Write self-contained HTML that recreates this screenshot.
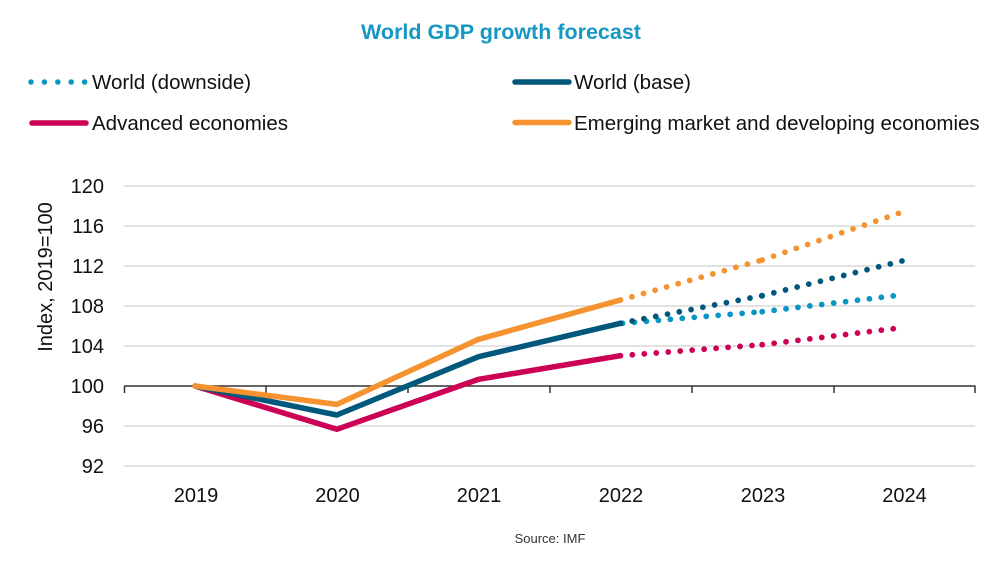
<!DOCTYPE html>
<html>
<head>
<meta charset="utf-8">
<style>
  html, body { margin: 0; padding: 0; background: #ffffff; }
  body { width: 1000px; height: 562px; overflow: hidden; }
  svg { display: block; }
  text { font-family: "Liberation Sans", Arial, sans-serif; }
</style>
</head>
<body>
<svg width="1000" height="562" viewBox="0 0 1000 562" xmlns="http://www.w3.org/2000/svg">
  <rect width="1000" height="562" fill="#ffffff"/>

  <!-- Title -->
  <text x="501" y="39" font-size="21.5" font-weight="bold" fill="#1797c4" text-anchor="middle">World GDP growth forecast</text>

  <!-- Legend -->
  <line x1="31" y1="82" x2="85" y2="82" stroke="#0a96c4" stroke-width="5.5" stroke-linecap="round" stroke-dasharray="0 13.4"/>
  <text x="92" y="89" font-size="20.5" fill="#111">World (downside)</text>

  <line x1="32" y1="123" x2="86" y2="123" stroke="#cc0055" stroke-width="5.5" stroke-linecap="round"/>
  <text x="92" y="130" font-size="20.5" fill="#111">Advanced economies</text>

  <line x1="515" y1="82" x2="569" y2="82" stroke="#00587c" stroke-width="5.5" stroke-linecap="round"/>
  <text x="574" y="89" font-size="20.5" fill="#111">World (base)</text>

  <line x1="515" y1="122.5" x2="569" y2="122.5" stroke="#f59331" stroke-width="5.5" stroke-linecap="round"/>
  <text x="574" y="130" font-size="20.5" fill="#111">Emerging market and developing economies</text>

  <!-- Gridlines -->
  <g stroke="#d9d9d9" stroke-width="1.5">
    <line x1="124" y1="186" x2="975" y2="186"/>
    <line x1="124" y1="226" x2="975" y2="226"/>
    <line x1="124" y1="266" x2="975" y2="266"/>
    <line x1="124" y1="306" x2="975" y2="306"/>
    <line x1="124" y1="346" x2="975" y2="346"/>
    <line x1="124" y1="426" x2="975" y2="426"/>
    <line x1="124" y1="466" x2="975" y2="466"/>
  </g>

  <!-- Axis at 100 -->
  <g stroke="#333" stroke-width="1.5">
    <line x1="124" y1="386" x2="975.5" y2="386"/>
    <line x1="124.5" y1="386" x2="124.5" y2="393"/>
    <line x1="266" y1="386" x2="266" y2="393"/>
    <line x1="408" y1="386" x2="408" y2="393"/>
    <line x1="550" y1="386" x2="550" y2="393"/>
    <line x1="692" y1="386" x2="692" y2="393"/>
    <line x1="834" y1="386" x2="834" y2="393"/>
    <line x1="975" y1="386" x2="975" y2="393"/>
  </g>

  <!-- Y tick labels -->
  <g font-size="20" fill="#111" text-anchor="end">
    <text x="104" y="193">120</text>
    <text x="104" y="233">116</text>
    <text x="104" y="273">112</text>
    <text x="104" y="313">108</text>
    <text x="104" y="353">104</text>
    <text x="104" y="393">100</text>
    <text x="104" y="433">96</text>
    <text x="104" y="473">92</text>
  </g>

  <!-- Y axis title -->
  <text transform="translate(52,277) rotate(-90)" font-size="20" fill="#111" text-anchor="middle">Index, 2019=100</text>

  <!-- X labels -->
  <g font-size="20" fill="#111" text-anchor="middle">
    <text x="196" y="502">2019</text>
    <text x="337.5" y="502">2020</text>
    <text x="479" y="502">2021</text>
    <text x="621" y="502">2022</text>
    <text x="763" y="502">2023</text>
    <text x="904.5" y="502">2024</text>
  </g>

  <!-- Source -->
  <text x="550" y="543" font-size="13" fill="#333" text-anchor="middle">Source: IMF</text>

  <!-- Series: solid -->
  <polyline points="195,386 336.8,429.3 478.6,379.3 620.4,355.7" fill="none" stroke="#cc0055" stroke-width="5.5" stroke-linejoin="round" stroke-linecap="round"/>
  <polyline points="195,386 336.8,415 478.6,356.7 620.4,323.3" fill="none" stroke="#00587c" stroke-width="5.5" stroke-linejoin="round" stroke-linecap="round"/>
  <polyline points="195,386 336.8,404.4 478.6,339.3 620.4,300" fill="none" stroke="#f59331" stroke-width="5.5" stroke-linejoin="round" stroke-linecap="round"/>

  <!-- Series: dotted forecasts -->
  <g fill="none" stroke-width="5.8" stroke-linecap="round" stroke-dasharray="0 12">
    <!-- downside -->
    <line x1="622.5" y1="323.3" x2="762.2" y2="311.7" stroke="#0a96c4"/>
    <line x1="762.2" y1="311.7" x2="904" y2="294.6" stroke="#0a96c4"/>
    <!-- base -->
    <line x1="620.4" y1="323.3" x2="762.2" y2="295.7" stroke="#00587c" stroke-dashoffset="-12"/>
    <line x1="762.2" y1="295.7" x2="904" y2="260.5" stroke="#00587c"/>
    <!-- advanced -->
    <line x1="620.4" y1="355.7" x2="762.2" y2="344.7" stroke="#cc0055" stroke-dashoffset="-12"/>
    <line x1="762.2" y1="344.7" x2="904" y2="327.4" stroke="#cc0055"/>
    <!-- emerging -->
    <line x1="620.4" y1="300" x2="762.2" y2="260" stroke="#f59331" stroke-dashoffset="-12"/>
    <line x1="762.2" y1="260" x2="904" y2="211.5" stroke="#f59331"/>
  </g>
</svg>
</body>
</html>
